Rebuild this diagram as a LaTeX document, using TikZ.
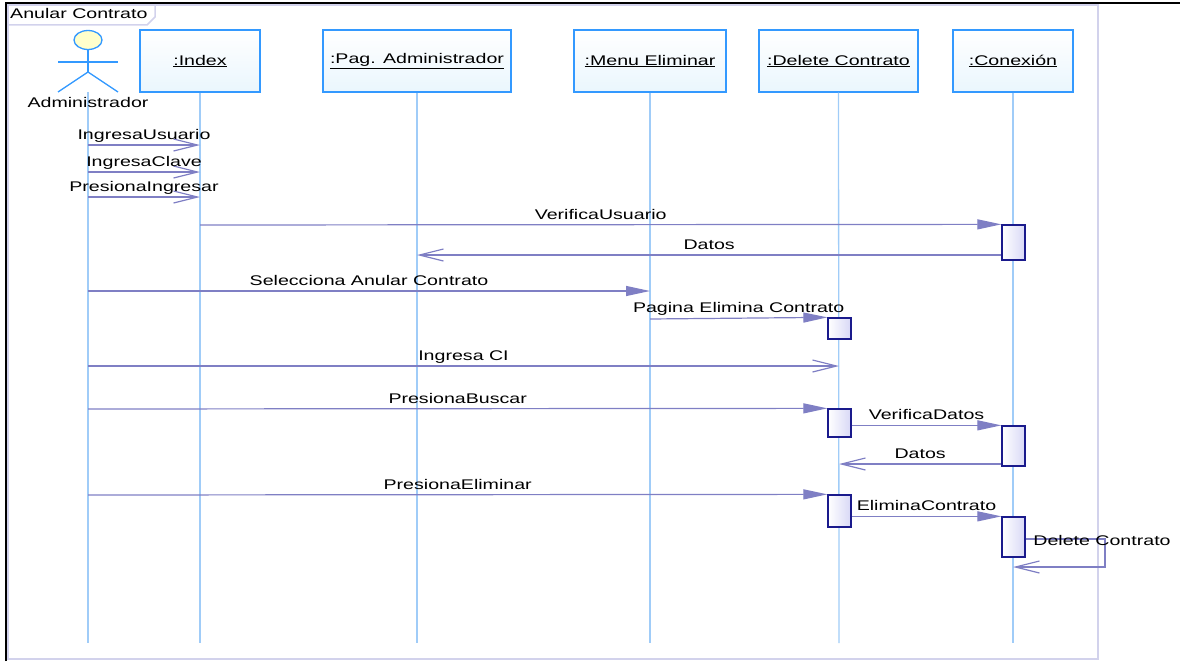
\documentclass[tikz,border=0pt]{standalone}
\usepackage{fontspec}
\setmainfont{Liberation Sans}[FakeStretch=1.4]
\usetikzlibrary{arrows.meta,shapes.geometric}
\definecolor{msgc}{HTML}{7F7FC4}
\definecolor{lifec}{HTML}{A0CCF8}
\definecolor{objborder}{HTML}{3399FF}
\definecolor{objfill}{HTML}{EAF6FD}
\definecolor{actborder}{HTML}{1A1A8C}
\definecolor{actfill}{HTML}{D8D8F6}
\definecolor{framecol}{HTML}{D2D2EC}
\definecolor{headfill}{HTML}{FFFFCC}
\tikzset{
  obj/.style={draw=objborder, line width=1.3pt, top color=white, bottom color=objfill,
    minimum height=62pt, inner sep=0pt},
  lifeline/.style={draw=lifec, line width=1.3pt},
  actbox/.style={draw=actborder, line width=1.3pt, left color=white, right color=actfill,
    minimum width=23pt, inner sep=0pt},
  msgline/.style={draw=msgc, line width=1.2pt},
  syncmsg/.style={msgline, -{Triangle[length=24pt,width=10pt]}},
  asyncmsg/.style={msgline, -{Straight Barb[length=24pt,width=12pt,line width=1.2pt]}},
  lbl/.style={anchor=south, inner sep=0pt, text height=10pt, text depth=0pt, yshift=5pt},
  actorline/.style={draw=objborder, line width=1.3pt}
}
\begin{document}
\begin{tikzpicture}[x=1pt,y=-1pt,font=\fontsize{14}{16}\selectfont]
\useasboundingbox (0,0) rectangle (1180,661);
% outer black lines
\draw[black, line width=2pt] (6,661) -- (6,3) -- (1180,3);
% frame
\draw[framecol, line width=1.8pt] (8,5) rectangle (1098,659);
\draw[framecol, line width=1.5pt] (8,25) -- (147,25) -- (155,17) -- (155,5);
\node[anchor=base west, inner sep=0pt] (title) at (10,19) {Anular Contrato};

% actor
\node[draw=objborder, line width=1.3pt, fill=headfill, ellipse, minimum width=28pt, minimum height=19pt, inner sep=0pt] (head) at (88,40) {};
\coordinate (hip) at (88,72);
\coordinate (armL) at (58,62);
\coordinate (armR) at (118,62);
\coordinate (legL) at (58,92);
\coordinate (legR) at (118,92);
\draw[actorline] (head.south) -- (hip);
\draw[actorline] (armL) -- (armR);
\draw[actorline] (legL) -- (hip) -- (legR);
\coordinate (admTop) at (88,92);
\coordinate (admEnd) at (88,643);
\draw[lifeline] (admTop) -- (admEnd);
\node[anchor=base, inner sep=0pt] (admlabel) at (88,107) {Administrador};

% objects
\node[obj, minimum width=120pt] (index) at (200,61) {\underline{:Index}};
\node[obj, minimum width=188pt] (pag) at (417,61) {\underline{:Pag. Administrador}};
\node[obj, minimum width=152pt] (menu) at (650,61) {\underline{:Menu Eliminar}};
\node[obj, minimum width=159pt] (del) at (838.5,61) {\underline{:Delete Contrato}};
\node[obj, minimum width=120pt] (con) at (1013,61) {\underline{:Conexión}};

\coordinate (indexEnd) at (200,643);
\coordinate (pagEnd) at (417,643);
\coordinate (menuEnd) at (650,643);
\coordinate (delEnd) at (839,643);
\coordinate (conEnd) at (1013,643);
\draw[lifeline] (index.south) -- (indexEnd);
\draw[lifeline] (pag.south) -- (pagEnd);
\draw[lifeline] (menu.south) -- (menuEnd);
\draw[lifeline] (del.south) -- (delEnd);
\draw[lifeline] (con.south) -- (conEnd);

% activations
\node[actbox, minimum height=35pt] (a1) at (1013.5,242.5) {};
\node[actbox, minimum height=21pt] (a2) at (839.5,328.5) {};
\node[actbox, minimum height=28pt] (a3) at (839.5,423) {};
\node[actbox, minimum height=40pt] (a4) at (1013.5,446) {};
\node[actbox, minimum height=32pt] (a5) at (839.5,511) {};
\node[actbox, minimum height=40pt] (a6) at (1013.5,537) {};

% message points
\coordinate (m1s) at (88,145);  \coordinate (m1e) at (200,145);
\coordinate (m2s) at (88,172);  \coordinate (m2e) at (200,172);
\coordinate (m3s) at (88,197);  \coordinate (m3e) at (200,197);
\coordinate (m4s) at (200,225);
\coordinate (m5e) at (417,255);
\coordinate (m6s) at (88,291);  \coordinate (m6e) at (650,291);
\coordinate (m7s) at (650,319);
\coordinate (m8s) at (88,366);  \coordinate (m8e) at (839,366);
\coordinate (m9s) at (88,409);
\coordinate (m11e) at (839,464);
\coordinate (m12s) at (88,495);
\coordinate (m14a) at (1105,539);
\coordinate (m14b) at (1105,567);
\coordinate (m14e) at (1013,567);

\draw[asyncmsg] (m1s) -- node[lbl]{IngresaUsuario} (m1e);
\draw[asyncmsg] (m2s) -- node[lbl]{IngresaClave} (m2e);
\draw[asyncmsg] (m3s) -- node[lbl]{PresionaIngresar} (m3e);
\draw[syncmsg] (m4s) -- node[lbl]{VerificaUsuario} (a1.north west);
\draw[asyncmsg] (a1.west |- m5e) -- node[lbl]{Datos} (m5e);
\draw[syncmsg] (m6s) -- node[lbl]{Selecciona Anular Contrato} (m6e);
\draw[syncmsg] (m7s) -- node[lbl]{Pagina Elimina Contrato} (a2.north west);
\draw[asyncmsg] (m8s) -- node[lbl]{Ingresa CI} (m8e);
\draw[syncmsg] (m9s) -- node[lbl]{PresionaBuscar} (a3.north west);
\draw[syncmsg] (a3.east |- a4.north) -- node[lbl]{VerificaDatos} (a4.north west);
\draw[asyncmsg] (a4.west |- m11e) -- node[lbl]{Datos} (m11e);
\draw[syncmsg] (m12s) -- node[lbl]{PresionaEliminar} (a5.north west);
\draw[syncmsg] (a5.east |- a6.north) -- node[lbl]{EliminaContrato} (a6.north west);
\draw[asyncmsg] (a6.east |- m14a) -- (m14a) -- (m14b) -- (m14e);
\node[anchor=base, inner sep=0pt] (m14lbl) at (1102,545) {Delete Contrato};
\end{tikzpicture}
\end{document}
